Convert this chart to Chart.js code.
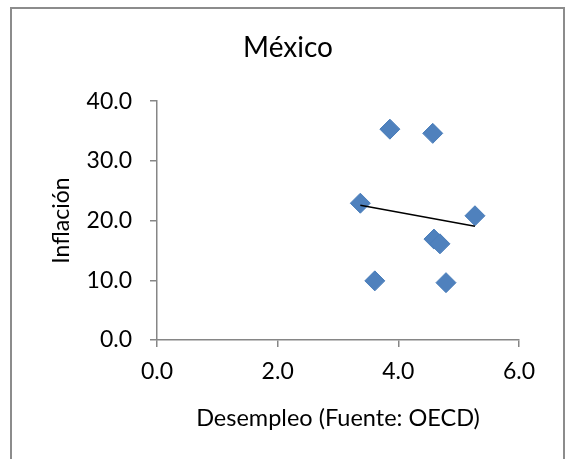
<!DOCTYPE html>
<html>
<head>
<meta charset="utf-8">
<script src="https://cdn.jsdelivr.net/npm/chart.js@4/dist/chart.umd.min.js"></script>
<style>
  html, body { margin: 0; padding: 0; background: #ffffff; }
  #wrap { width: 565px; height: 459px; }
</style>
</head>
<body>
<div id="wrap"><canvas id="chart" width="565" height="459"></canvas></div>
<script>
// Unemployment (x) and inflation (y) observations for Mexico
const desempleo = [3.86, 4.57, 3.37, 5.27, 4.59, 4.69, 3.61, 4.79];
const inflacion = [35.3, 34.6, 22.9, 20.8, 16.9, 16.1, 9.9, 9.6];

const titulo = 'México';
const tituloX = 'Desempleo (Fuente: OECD)';
const tituloY = 'Inflación';

// Least-squares linear trend over the observed range
function tendenciaLineal(xs, ys) {
  const n = xs.length;
  const mx = xs.reduce((a, b) => a + b, 0) / n;
  const my = ys.reduce((a, b) => a + b, 0) / n;
  let sxy = 0, sxx = 0;
  for (let i = 0; i < n; i++) {
    sxy += (xs[i] - mx) * (ys[i] - my);
    sxx += (xs[i] - mx) * (xs[i] - mx);
  }
  const m = sxy / sxx;
  const b = my - m * mx;
  const x0 = Math.min(...xs), x1 = Math.max(...xs);
  return [{ x: x0, y: m * x0 + b }, { x: x1, y: m * x1 + b }];
}

const puntos = desempleo.map((x, i) => ({ x: x, y: inflacion[i] }));
const tendencia = tendenciaLineal(desempleo, inflacion);

const FUENTE = "Lato, 'Open Sans', sans-serif";
const GRIS = '#868686';

// Outer frame around the whole chart
const marco = {
  id: 'marco',
  beforeDraw(chart) {
    const ctx = chart.ctx;
    ctx.save();
    ctx.fillStyle = '#ffffff';
    ctx.fillRect(0, 0, chart.width, chart.height);
    ctx.strokeStyle = '#8c8c8c';
    ctx.lineWidth = 2;
    ctx.strokeRect(11, 8, 553, 480);
    ctx.restore();
  }
};

new Chart(document.getElementById('chart'), {
  type: 'scatter',
  data: {
    datasets: [
      {
        type: 'line',
        data: tendencia,
        borderColor: '#000000',
        borderWidth: 1.5,
        pointRadius: 0,
        fill: false,
        showLine: true
      },
      {
        data: puntos,
        pointStyle: 'rectRot',
        pointRadius: 10,
        backgroundColor: '#4F81BD',
        borderColor: '#4A7EBB',
        borderWidth: 1
      }
    ]
  },
  options: {
    responsive: false,
    animation: false,
    layout: { padding: { left: 11, right: 0, top: 8, bottom: 0 } },
    plugins: {
      legend: { display: false },
      tooltip: { enabled: false },
      title: {
        display: true,
        text: titulo,
        color: '#000000',
        font: { family: FUENTE, size: 28, weight: 'normal', lineHeight: 1.2 },
        padding: { top: 23, bottom: 36.5 }
      }
    },
    scales: {
      x: {
        type: 'linear',
        min: 0,
        max: 6,
        afterFit(scale) { scale.height = 119; },
        border: { display: true, color: GRIS, width: 1.5 },
        grid: { drawOnChartArea: false, drawTicks: true, tickLength: 7, color: GRIS, lineWidth: 1.5 },
        ticks: {
          stepSize: 2,
          padding: 11,
          color: '#000000',
          font: { family: FUENTE, size: 23 },
          callback: (v) => Number(v).toFixed(1)
        },
        title: {
          display: true,
          text: tituloX,
          color: '#000000',
          font: { family: FUENTE, size: 23.5, lineHeight: 1.2 },
          padding: { top: 0, bottom: 26 }
        }
      },
      y: {
        type: 'linear',
        min: 0,
        max: 40,
        afterFit(scale) { scale.width = 146; },
        border: { display: true, color: GRIS, width: 1.5 },
        grid: { drawOnChartArea: false, drawTicks: true, tickLength: 7, color: GRIS, lineWidth: 1.5 },
        ticks: {
          stepSize: 10,
          padding: 18,
          color: '#000000',
          font: { family: FUENTE, size: 23 },
          callback: (v) => Number(v).toFixed(1)
        },
        title: {
          display: true,
          text: tituloY,
          color: '#000000',
          font: { family: FUENTE, size: 23, lineHeight: 1.2 },
          padding: { top: 37, bottom: 0 }
        }
      },
      // empty right-hand margin box that keeps the plot narrower than the title
      margen: {
        type: 'linear',
        position: 'right',
        display: true,
        afterFit(scale) { scale.width = 46; },
        border: { display: false },
        grid: { display: false },
        ticks: { display: false }
      }
    }
  },
  plugins: [marco]
});
</script>
</body>
</html>
